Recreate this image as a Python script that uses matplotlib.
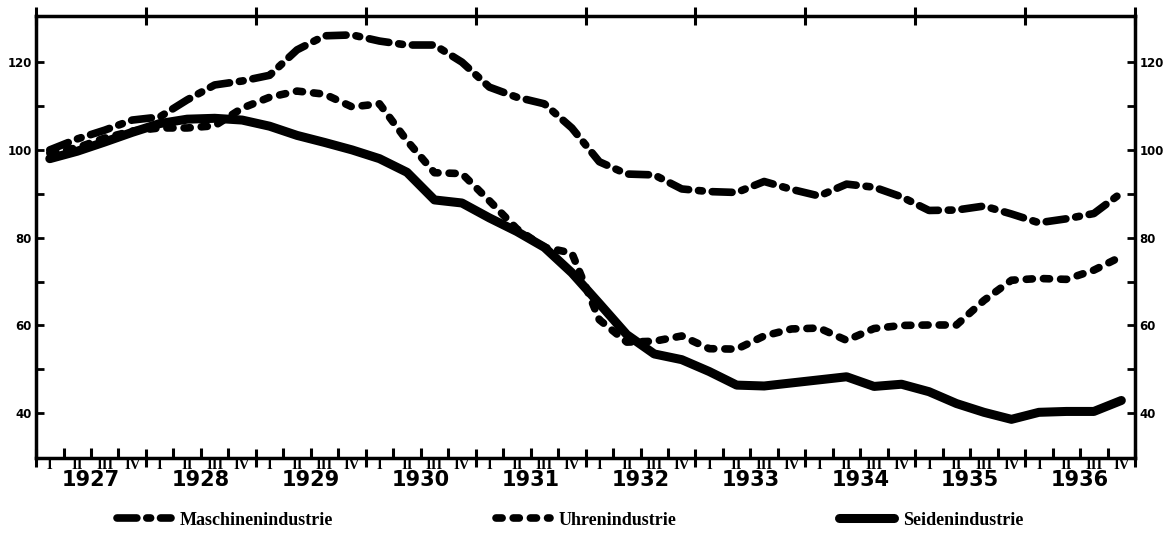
import matplotlib
matplotlib.use('Agg')  # kein Display

import matplotlib.pyplot as plt

# Quartale 1927 I .. 1936 IV
years = list(range(1927, 1937))
quarters = ['I', 'II', 'III', 'IV']

maschinen = [100.0, 102.5, 104.5, 106.8, 107.5, 111.4, 114.8, 115.7, 117.0, 122.8,
             126.0, 126.2, 124.8, 123.9, 123.9, 120.0, 114.3, 112.0, 110.5, 105.0,
             97.3, 94.5, 94.3, 91.1, 90.5, 90.3, 92.8, 91.0, 89.5, 92.2,
             91.5, 89.3, 86.2, 86.3, 87.2, 85.4, 83.4, 84.3, 85.5, 90.2]
uhren = [99.3, 100.5, 102.7, 104.3, 105.0, 105.0, 105.5, 109.5, 112.0, 113.4,
         112.7, 109.8, 110.5, 102.1, 94.8, 94.6, 88.4, 82.0, 77.8, 76.5,
         61.3, 56.2, 56.4, 57.6, 54.7, 54.6, 57.6, 59.2, 59.4, 56.6,
         59.3, 60.0, 60.1, 60.1, 65.7, 70.3, 70.7, 70.5, 72.6, 75.7]
seide = [98.0, 99.7, 101.8, 104.0, 106.0, 107.0, 107.2, 106.8, 105.4, 103.3,
         101.7, 100.0, 98.0, 94.9, 88.6, 87.9, 84.5, 81.4, 77.8, 72.0,
         65.0, 57.9, 53.5, 52.2, 49.5, 46.4, 46.2, 46.9, 47.6, 48.3,
         46.1, 46.6, 44.9, 42.2, 40.2, 38.6, 40.2, 40.4, 40.4, 42.9]

y_major = [40, 60, 80, 100, 120]
y_minor = [50, 70, 90, 110]

# x = Quartalsmitte
t = [y + (q + 0.5) / 4 for y in years for q in range(4)]

fig = plt.figure(figsize=(11.63, 5.35), dpi=100)
ax = fig.add_axes([0.031, 0.144, 0.945, 0.826])

ax.plot(t, maschinen, color='black', lw=5.5, dash_capstyle='round',
        dashes=(2.6, 1.3, 0.5, 1.3), label='Maschinenindustrie')
ax.plot(t, uhren, color='black', lw=5.5, dash_capstyle='round',
        dashes=(0.8, 1.45), label='Uhrenindustrie')
ax.plot(t, seide, color='black', lw=6.5, solid_capstyle='round',
        solid_joinstyle='round', label='Seidenindustrie')

ax.set_xlim(years[0], years[-1] + 1)
ax.set_ylim(29.8, 130.5)

for s in ax.spines.values():
    s.set_linewidth(2.5)

# x-Achse: Jahresgrenzen und Quartalsgrenzen
ax.set_xticks(years + [years[-1] + 1])
ax.set_xticks([y + q / 4 for y in years for q in (1, 2, 3)], minor=True)
ax.set_xticklabels([])
ax.tick_params(axis='x', which='major', direction='inout', length=13, width=2.2,
               top=True, bottom=True)
ax.tick_params(axis='x', which='minor', direction='in', length=7, width=2.2,
               top=False, bottom=True)

# y-Achse links und rechts
ax.set_yticks(y_major)
ax.set_yticks(y_minor, minor=True)
ax.set_yticklabels([str(v) for v in y_major])
ax.tick_params(axis='y', which='both', direction='in', length=6, width=2,
               left=True, right=True, labelleft=True, labelright=True,
               labelsize=8.5, pad=3)
for lab in ax.get_yticklabels():
    lab.set_fontweight('bold')

# Quartals- und Jahresbeschriftung
tr = ax.get_xaxis_transform()
for y in years:
    for q, ql in enumerate(quarters):
        ax.text(y + (q + 0.5) / 4, -0.017, ql, transform=tr, ha='center',
                va='center', fontsize=10.5, fontweight='bold', family='Liberation Serif')
    ax.text(y + 0.5, -0.05, str(y), transform=tr, ha='center', va='center',
            fontsize=15, fontweight='bold', family='DejaVu Sans')

fig.legend(loc='center', bbox_to_anchor=(0.49, 0.028), ncol=3, frameon=False,
           prop={'family': 'Liberation Serif', 'weight': 'bold', 'size': 13},
           handlelength=3.0, columnspacing=9, handletextpad=0.5)

plt.savefig('out.png', dpi=100, facecolor='white')
plt.close()
